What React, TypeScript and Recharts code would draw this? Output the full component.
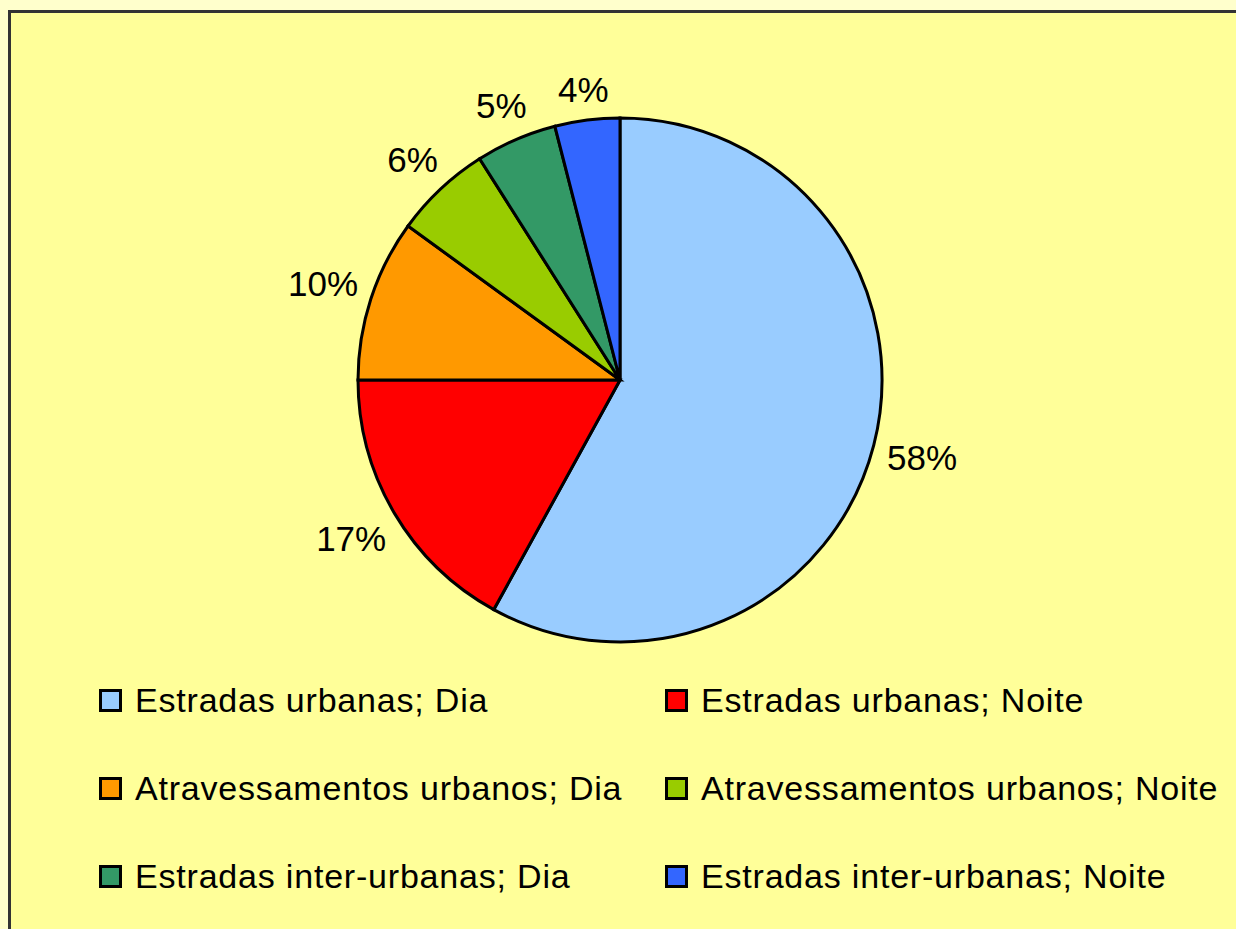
import React from 'react';
import { PieChart, Pie, Cell, Legend } from 'recharts';

const categories = [
  'Estradas urbanas; Dia',
  'Estradas urbanas; Noite',
  'Atravessamentos urbanos; Dia',
  'Atravessamentos urbanos; Noite',
  'Estradas inter-urbanas; Dia',
  'Estradas inter-urbanas; Noite',
];
const shares = [58, 17, 10, 6, 5, 4];
const colors = ['#99CCFF', '#FF0000', '#FF9900', '#99CC00', '#339966', '#3366FF'];

const data = categories.map((name, i) => ({ name, value: shares[i] }));

const FONT = 'Arial, "Liberation Sans", sans-serif';
const RAD = Math.PI / 180;

// label sits on the slice's mid ray, just clear of the rim
const renderLabel = (props: any) => {
  const { cx, cy, midAngle, outerRadius, value } = props;
  const text = `${value}%`;
  const w = ((text.length - 1) * 0.556 + 0.889) * 35;
  const h = 32;
  const cos = Math.cos(-midAngle * RAD);
  const sin = Math.sin(-midAngle * RAD);
  const d = outerRadius + 12 + (w / 2) * Math.abs(cos) + (h / 2) * Math.abs(sin);
  return (
    <text
      x={cx + d * cos}
      y={cy + d * sin}
      textAnchor="middle"
      dominantBaseline="central"
      fill="#000"
      style={{ fontFamily: FONT, fontSize: 35 }}
    >
      {text}
    </text>
  );
};

const renderLegend = () => (
  <div
    style={{
      display: 'grid',
      gridTemplateColumns: '566px 560px',
      fontFamily: FONT,
      fontSize: 34,
      letterSpacing: 0.8,
      color: '#000',
    }}
  >
    {data.map((d, i) => (
      <div key={d.name} style={{ display: 'flex', alignItems: 'center', height: 88 }}>
        <span
          style={{
            display: 'inline-block',
            width: 17,
            height: 17,
            border: '3px solid #000',
            background: colors[i],
            marginRight: 13,
            boxSizing: 'content-box',
            flexShrink: 0,
          }}
        />
        <span style={{ whiteSpace: 'nowrap' }}>{d.name}</span>
      </div>
    ))}
  </div>
);

export default function App() {
  return (
    <div
      style={{
        position: 'fixed',
        left: 0,
        top: 0,
        width: 1236,
        height: 929,
        background: '#FFFFCC',
        overflow: 'hidden',
      }}
    >
      <div
        style={{
          position: 'absolute',
          left: 8,
          top: 10,
          width: 1250,
          height: 940,
          background: '#FFFF99',
          border: '3px solid #333',
        }}
      />
      <div style={{ position: 'absolute', left: 0, top: 0 }}>
        <PieChart width={1236} height={929} margin={{ top: 0, right: 0, bottom: 0, left: 0 }}>
          <Pie
            data={data}
            dataKey="value"
            nameKey="name"
            cx={620}
            cy={380}
            outerRadius={262}
            startAngle={90}
            endAngle={-270}
            stroke="#000"
            strokeWidth={3}
            label={renderLabel}
            labelLine={false}
            isAnimationActive={false}
          >
            {data.map((d, i) => (
              <Cell key={d.name} fill={colors[i]} />
            ))}
          </Pie>
          <Legend
            content={renderLegend}
            wrapperStyle={{ position: 'absolute', left: 99, top: 656, width: 1130 }}
          />
        </PieChart>
      </div>
    </div>
  );
}
